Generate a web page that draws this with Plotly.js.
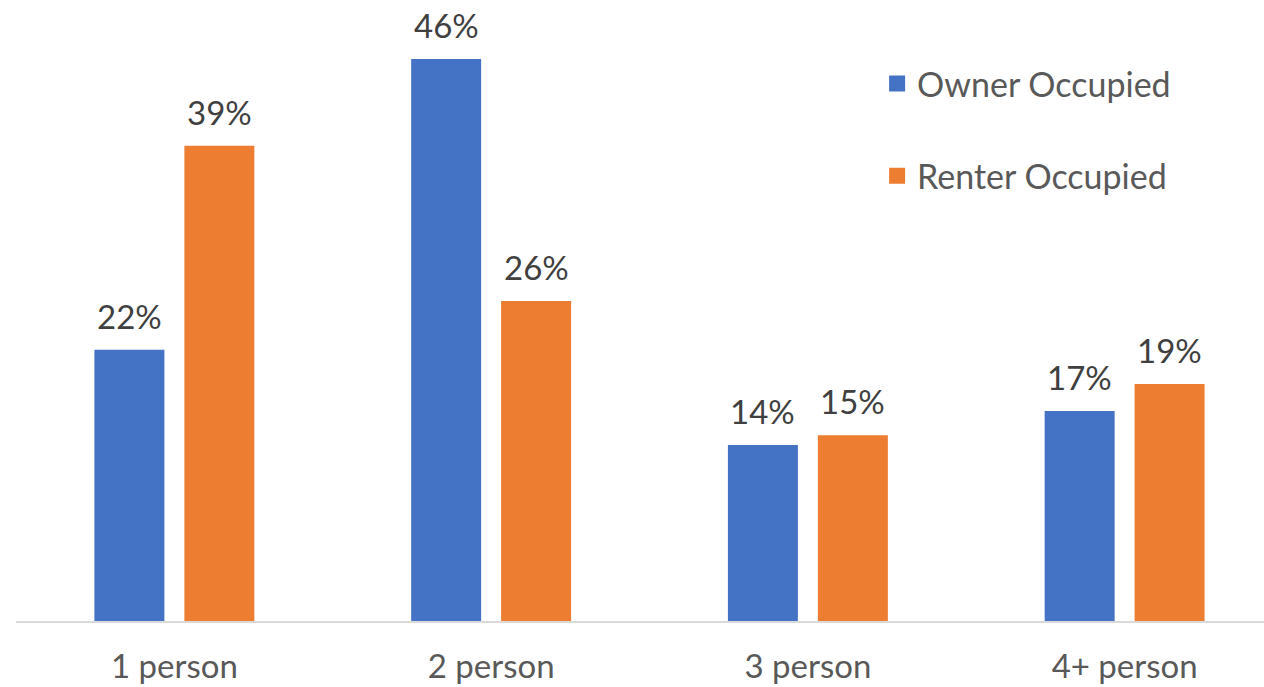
<!DOCTYPE html>
<html>
<head>
<meta charset="utf-8">
<script src="https://cdn.plot.ly/plotly-3.0.1.min.js"></script>
<style>html,body{margin:0;padding:0;background:#fff;}#chart{width:1264px;height:687px;}</style>
</head>
<body>
<div id="chart"></div>
<script>
const categories = ["1 person", "2 person", "3 person", "4+ person"];
const ownerValues = [22.2, 46.0, 14.4, 17.2];
const renterValues = [38.9, 26.2, 15.2, 19.4];
const seriesNames = ["Owner Occupied", "Renter Occupied"];
const seriesColors = ["#4472C4", "#ED7D31"];

const FONT = "Lato, 'Open Sans', sans-serif";
const seriesValues = [ownerValues, renterValues];

const traces = [
  {type: "bar", x: categories, y: ownerValues, name: seriesNames[0],
   marker: {color: seriesColors[0]}, showlegend: false, hoverinfo: "x+y"},
  {type: "bar", x: categories, y: renterValues, name: seriesNames[1],
   marker: {color: seriesColors[1]}, showlegend: false, hoverinfo: "x+y"},
  {type: "scatter", mode: "markers", x: [null], y: [null], name: seriesNames[0],
   legendgroup: "a", marker: {symbol: "square", size: 20, color: seriesColors[0]}},
  {type: "scatter", mode: "markers", x: [null], y: [null], name: seriesNames[1],
   legendgroup: "b", marker: {symbol: "square", size: 20, color: seriesColors[1]}}
];

// value labels above each bar, anchored to the bar's data value
const annotations = [];
seriesValues.forEach((vals, s) => {
  vals.forEach((v, i) => {
    annotations.push({
      x: categories[i], y: v, xref: "x", yref: "y",
      text: Math.round(v) + "%", showarrow: false,
      xanchor: "center", yanchor: "bottom",
      xshift: s === 0 ? -45 : 45, yshift: 12,
      font: {size: 33, color: "#404040", family: FONT}
    });
  });
});

const layout = {
  width: 1264, height: 687,
  margin: {l: 16, r: 0, t: 20, b: 66},
  paper_bgcolor: "#fff", plot_bgcolor: "#fff",
  font: {family: FONT, color: "#595959"},
  barmode: "group", bargap: 0.432, bargroupgap: 0.222,
  xaxis: {type: "category", range: [-0.5, 3.44], showgrid: false, zeroline: false,
    showline: true, linecolor: "#d9d9d9", linewidth: 2, ticks: "",
    tickfont: {size: 33, color: "#595959", family: FONT}, ticklabelstandoff: 15},
  yaxis: {range: [0, 49.2], visible: false, showgrid: false, zeroline: false},
  legend: {x: 0.69, y: 0.942, xanchor: "left", yanchor: "top",
    font: {size: 34, color: "#595959", family: FONT}, tracegroupgap: 45,
    itemwidth: 30, bgcolor: "rgba(0,0,0,0)"},
  annotations: annotations,
  showlegend: true
};

Plotly.newPlot("chart", traces, layout, {displayModeBar: false, staticPlot: true});
</script>
</body>
</html>
